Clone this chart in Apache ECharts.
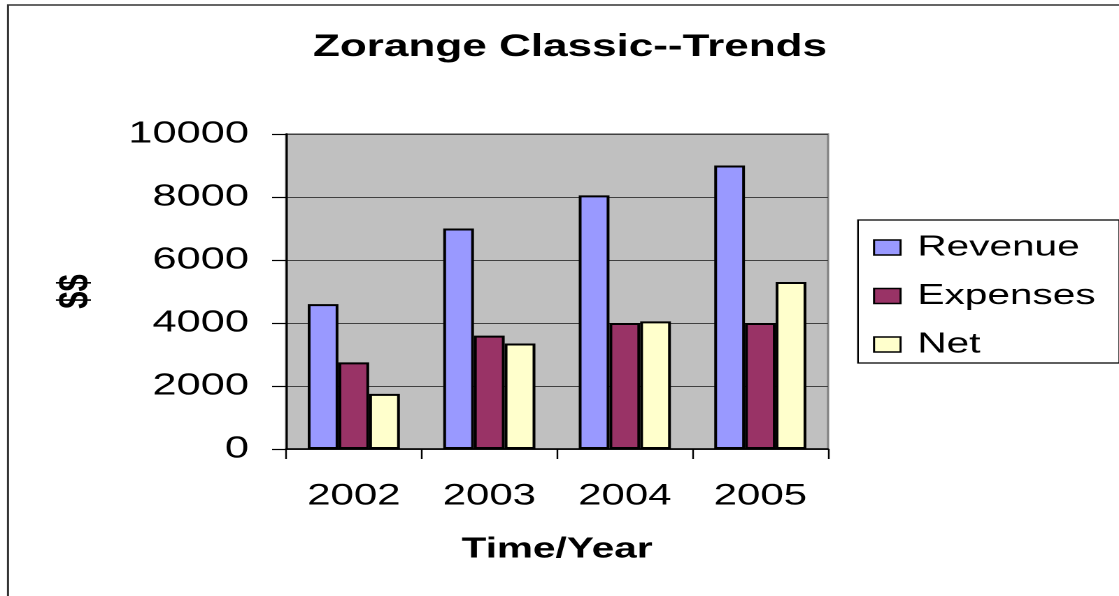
<!DOCTYPE html>
<html>
<head>
<meta charset="utf-8">
<script src="https://cdn.jsdelivr.net/npm/echarts@6/dist/echarts.min.js"></script>
<style>
    html, body {
        margin: 0;
        padding: 0;
        background: #fff;
        overflow: hidden;
    }
    /* the reference is stretched sideways, so draw narrow and scale x */
    #chart {
        width: 800px;
        height: 596px;
        transform: scale(1.39875, 1);
        transform-origin: 0 0;
    }
</style>
</head>
<body>
<div id="chart"></div>
<script>
    const years = ['2002', '2003', '2004', '2005'];
    const revenue = [4600, 7000, 8050, 9000];
    const expenses = [2750, 3600, 4000, 4000];
    const net = [1750, 3350, 4050, 5300];
    const seriesNames = ['Revenue', 'Expenses', 'Net'];
    const seriesColors = ['#9999FF', '#993366', '#FFFFCC'];

    const font = '"Liberation Sans", Arial, sans-serif';

    const chart = echarts.init(document.getElementById('chart'), null, {devicePixelRatio: 2});

    function barSeries(name, data, color) {
        return {
            name: name,
            type: 'bar',
            data: data,
            barGap: '0%',
            barCategoryGap: '32%',
            itemStyle: {
                color: color,
                borderColor: '#000',
                borderWidth: 2
            }
        };
    }

    chart.setOption({
        animation: false,
        backgroundColor: '#fff',
        title: {
            text: 'Zorange Classic--Trends',
            left: 407.5,
            top: 32,
            padding: 0,
            textAlign: 'center',
            textStyle: {
                fontFamily: font,
                fontSize: 31.5,
                fontWeight: 'bold',
                lineHeight: 31,
                color: '#000'
            }
        },
        graphic: [{
            type: 'rect',
            shape: {x: 5.7, y: 5, width: 900, height: 700},
            style: {fill: 'none', stroke: '#333', lineWidth: 1.5},
            silent: true
        }],
        legend: {
            orient: 'vertical',
            left: 613.4,
            top: 220,
            padding: [13, 17, 4, 10.7],
            itemGap: 19.5,
            itemWidth: 19,
            itemHeight: 15,
            icon: 'rect',
            borderColor: '#000',
            borderWidth: 1.2,
            backgroundColor: '#fff',
            data: seriesNames,
            itemStyle: {borderColor: '#000', borderWidth: 1.5},
            textStyle: {
                fontFamily: font,
                fontSize: 29,
                lineHeight: 29,
                color: '#000',
                padding: [0, 0, 0, 7]
            }
        },
        grid: {
            left: 204.5,
            top: 134,
            width: 387.5,
            height: 315,
            show: true,
            backgroundColor: '#C0C0C0',
            borderColor: '#808080',
            borderWidth: 1.5
        },
        xAxis: {
            type: 'category',
            data: years,
            name: 'Time/Year',
            nameLocation: 'middle',
            nameGap: 86,
            nameTextStyle: {
                fontFamily: font,
                fontSize: 29,
                fontWeight: 'bold',
                color: '#000'
            },
            axisLine: {lineStyle: {color: '#000', width: 1.5}},
            axisTick: {show: true, length: 10, lineStyle: {color: '#000', width: 1.2}},
            axisLabel: {
                margin: 32,
                fontFamily: font,
                fontSize: 30,
                color: '#000'
            }
        },
        yAxis: {
            type: 'value',
            min: 0,
            max: 10000,
            interval: 2000,
            name: '$$',
            nameLocation: 'middle',
            nameRotate: 90,
            nameGap: 135,
            nameTextStyle: {
                fontFamily: font,
                fontSize: 31,
                fontWeight: 'bold',
                color: '#000'
            },
            axisLine: {show: true, lineStyle: {color: '#000', width: 1.5}},
            axisTick: {show: true, length: 10, lineStyle: {color: '#000', width: 1.2}},
            axisLabel: {
                margin: 26.5,
                fontFamily: font,
                fontSize: 31,
                color: '#000',
                formatter: (v) => String(v)
            },
            splitLine: {lineStyle: {color: '#404040', width: 1}}
        },
        series: [
            barSeries(seriesNames[0], revenue, seriesColors[0]),
            barSeries(seriesNames[1], expenses, seriesColors[1]),
            barSeries(seriesNames[2], net, seriesColors[2])
        ]
    });
</script>
</body>
</html>
